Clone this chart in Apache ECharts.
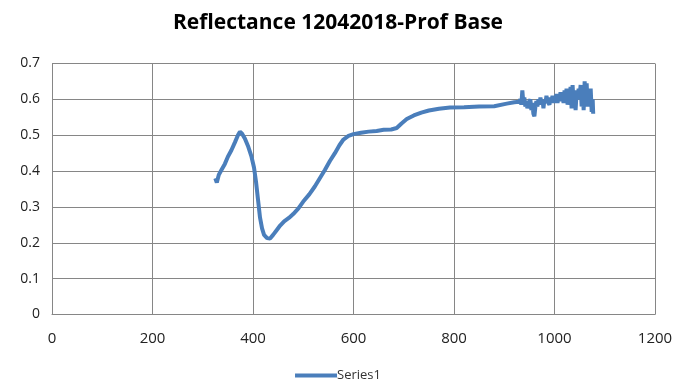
<!DOCTYPE html>
<html><head><meta charset="utf-8">
<script src="https://cdn.jsdelivr.net/npm/echarts@6/dist/echarts.min.js"></script>
<style>html,body{margin:0;padding:0;background:#fff}#c{width:676px;height:388px}</style>
</head><body><div id="c"></div>
<script>
const titleText = "Reflectance 12042018-Prof Base";
const seriesName = "Series1";
const xTicks = [0, 200, 400, 600, 800, 1000, 1200];
const yTicks = [0, 0.1, 0.2, 0.3, 0.4, 0.5, 0.6, 0.7];
const wavelength = [
 325,328,332,338,344,350,357,364,370,374,378,384,390,397,402,406,410,414,418,422,428,434,440,447,454,462,472,480,490,500,512,523,533,543,553,563,572,580,590,600,615,630,646,660,675,686,695,706,720,735,750,770,792,820,850,880,905,920,930,
 932,934,936,938,940,942,944,946,948,950,952,954,956,958,960,962,964,966,968,970,972,974,976,978,980,982,984,986,988,990,992,994,996,998,1000,1002,1004,1006,1008,1010,1012,1014,1016,1018,1020,1022,1024,1026,1028,1030,1032,1034,1036,1038,1040,1042,1044,1046,1048,1050,1052,1054,1056,1058,1060,1062,1064,1066,1068,1070,1072,1074,1076,1077
];
const reflectance = [
 0.38,0.368,0.39,0.405,0.42,0.44,0.458,0.48,0.50,0.51,0.505,0.49,0.47,0.44,0.41,0.37,0.32,0.27,0.24,0.222,0.213,0.212,0.222,0.235,0.248,0.26,0.27,0.28,0.295,0.315,0.335,0.357,0.38,0.403,0.428,0.45,0.472,0.488,0.498,0.503,0.507,0.51,0.512,0.515,0.516,0.52,0.532,0.545,0.555,0.563,0.569,0.574,0.577,0.578,0.58,0.581,0.588,0.592,0.593,
 0.60,0.585,0.625,0.59,0.605,0.58,0.595,0.575,0.59,0.585,0.60,0.57,0.59,0.56,0.553,0.58,0.595,0.58,0.60,0.585,0.605,0.59,0.60,0.575,0.60,0.59,0.61,0.595,0.60,0.585,0.605,0.595,0.61,0.59,0.605,0.595,0.615,0.59,0.61,0.60,0.62,0.595,0.615,0.59,0.625,0.60,0.63,0.585,0.62,0.60,0.635,0.575,0.64,0.59,0.625,0.57,0.62,0.60,0.63,0.61,0.64,0.58,0.63,0.57,0.65,0.60,0.645,0.58,0.62,0.59,0.63,0.565,0.60,0.56
];
const points = wavelength.map((w, i) => [w, reflectance[i]]);
const chart = echarts.init(document.getElementById('c'), null, {renderer: 'canvas'});
const font = '"Open Sans", "Liberation Sans", sans-serif';
chart.setOption({
  animation: false,
  backgroundColor: '#fff',
  title: {text: titleText, left: 'center', top: 8,
    textStyle: {fontFamily: font, fontSize: 21, fontWeight: 'bold', color: '#000'}},
  grid: {left: 52, right: 21, top: 63.5, bottom: 73.5},
  legend: {bottom: 1, left: 'center', itemWidth: 42, itemHeight: 4, itemGap: 4,
    data: [{name: seriesName, icon: 'rect'}],
    textStyle: {fontFamily: font, fontSize: 13, color: '#333', padding: [0,0,0,-5]}},
  xAxis: {type: 'value', min: xTicks[0], max: xTicks[xTicks.length-1], interval: 200,
    axisLine: {show: true, lineStyle: {color: '#868686', width: 1}},
    axisTick: {show: false},
    splitLine: {show: true, lineStyle: {color: '#868686', width: 1}},
    axisLabel: {margin: 17, fontFamily: font, fontSize: 15, color: '#222',
      formatter: v => xTicks.includes(v) ? String(v) : ''}},
  yAxis: {type: 'value', min: 0, max: 0.7, interval: 0.1,
    axisLine: {show: true, lineStyle: {color: '#868686', width: 1}},
    axisTick: {show: false},
    splitLine: {show: true, lineStyle: {color: '#868686', width: 1}},
    axisLabel: {margin: 12, fontFamily: font, fontSize: 14, color: '#222',
      formatter: v => { const t = yTicks.find(y => Math.abs(y - v) < 1e-9); return t === undefined ? '' : String(t); }}},
  series: [{name: seriesName, type: 'line', data: points, showSymbol: false, symbol: 'none',
    lineStyle: {color: '#4a7ebb', width: 4}, itemStyle: {color: '#4a7ebb'}}]
});
</script></body></html>
